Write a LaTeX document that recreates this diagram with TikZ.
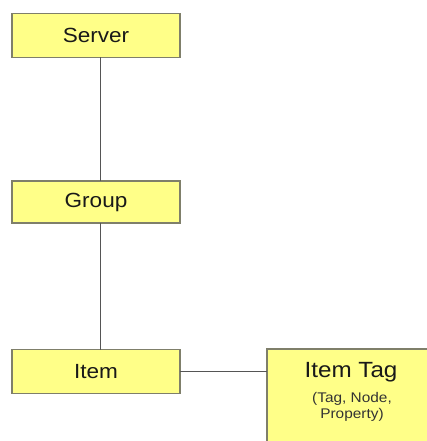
\documentclass[tikz,border=0pt]{standalone}
\usepackage{fontspec}
\setmainfont{Liberation Sans}[FakeStretch=1.1]
\definecolor{boxfill}{HTML}{FFFF88}
\definecolor{boxline}{HTML}{7F7F6A}
\definecolor{conn}{HTML}{555555}
\begin{document}
\begin{tikzpicture}[x=1pt,y=-1pt,
  box/.style={draw=boxline,line width=1.6pt,fill=boxfill,inner sep=0pt,outer sep=0pt,
    minimum width=168pt,minimum height=44pt,font=\fontsize{20.5}{24}\selectfont,text=black!90},
  conn/.style={draw=conn,line width=1pt}]
\fill[white] (0,0) rectangle (426,441);
\useasboundingbox (0,0) rectangle (426,441);
\node[box] (server) at (96,35.5) {Server};
\node[box,minimum height=42pt] (group) at (96,202) {Group};
\node[box] (item) at (96,371.5) {Item};
\node[box,anchor=north west,minimum width=173pt,minimum height=111pt] (itemtag) at (267,349) {};
\node[font=\fontsize{22}{26}\selectfont,text=black!90] (tagtitle) at (351,372) {Item Tag};
\node[font=\fontsize{14}{15.5}\selectfont,text=black!80,align=center] (sub) at (352,407) {(Tag, Node,\\Property)};
\draw[conn] ([xshift=4pt]server.south) -- ([xshift=4pt]group.north);
\draw[conn] ([xshift=4pt]group.south) -- ([xshift=4pt]item.north);
\draw[conn] (item.east) -- (item.east -| itemtag.west);
\end{tikzpicture}
\end{document}
